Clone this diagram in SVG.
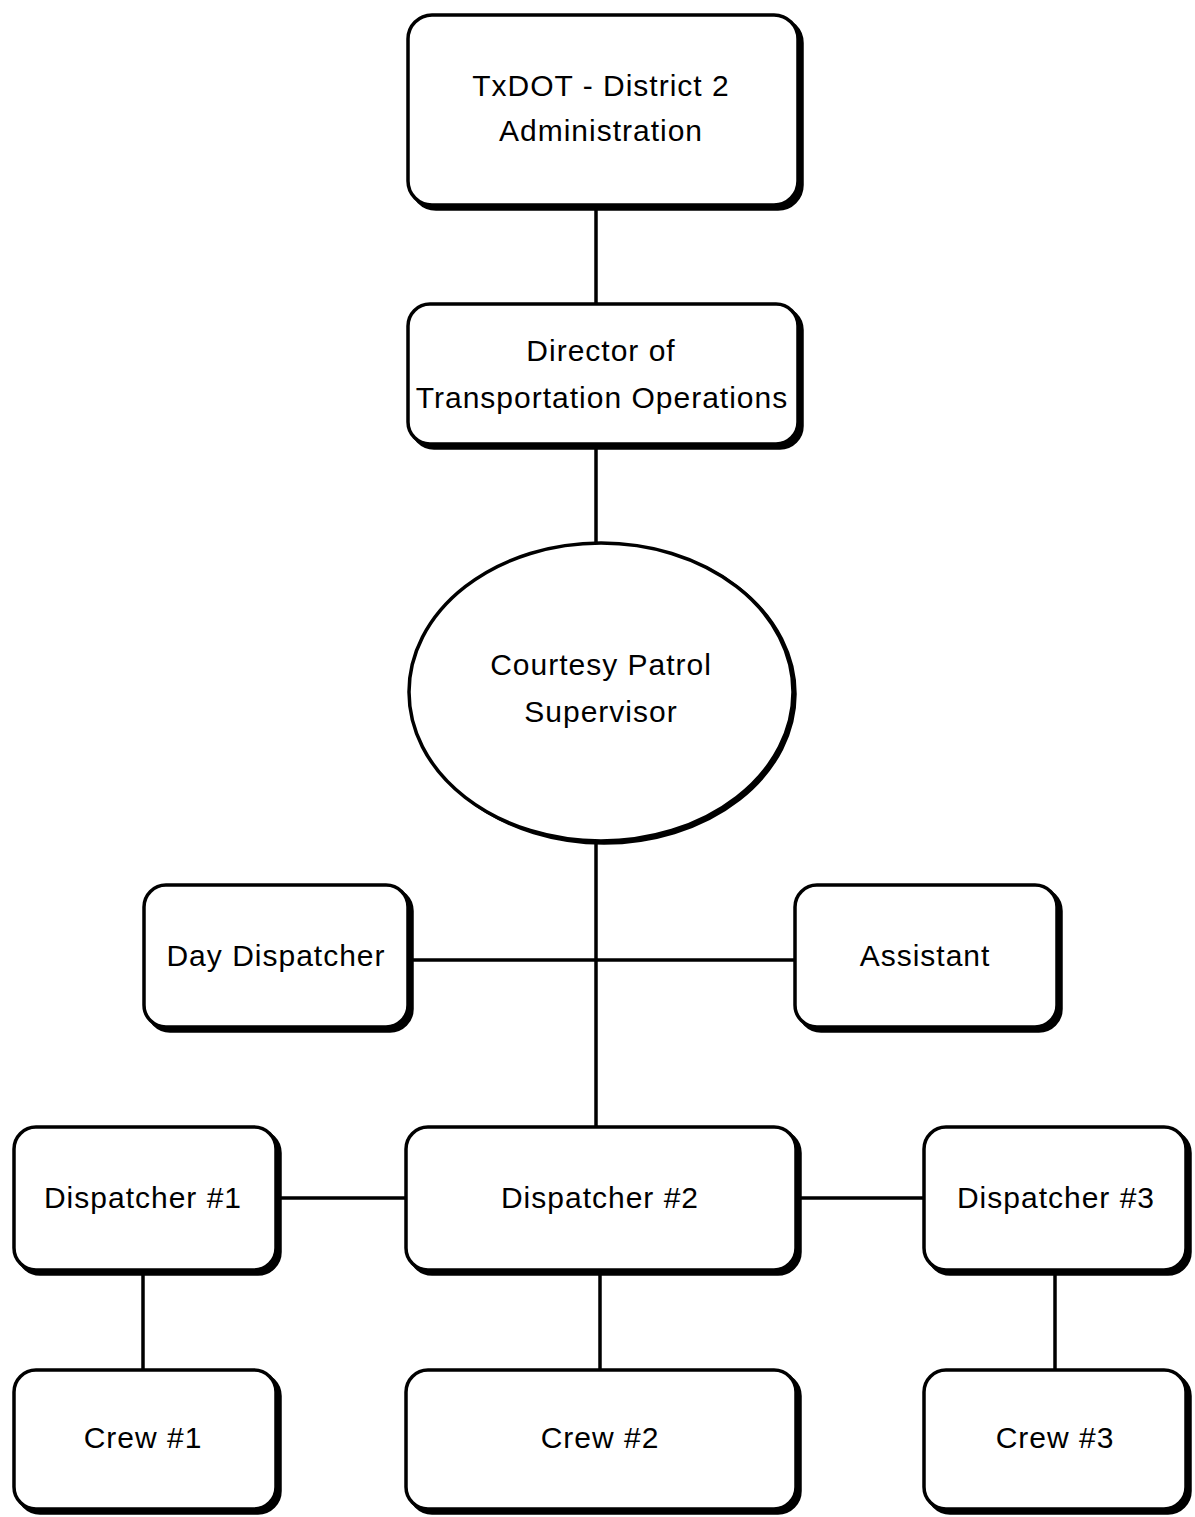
<svg xmlns="http://www.w3.org/2000/svg" width="1195" height="1517" viewBox="0 0 1195 1517">
  <style>
    .box { fill: #fff; stroke: #000; stroke-width: 3.5; }
    .shadow { fill: #000; stroke: #000; stroke-width: 3.5; }
    .label { font-family: "Liberation Sans", Arial, Helvetica, sans-serif; font-size: 30px; letter-spacing: 1px; fill: #000; text-anchor: middle; }
    .link { stroke: #000; stroke-width: 3.5; fill: none; }
  </style>
  <rect width="1195" height="1517" fill="#fff"/>

  <!-- connectors -->
  <g id="connectors">
    <line class="link" x1="596" y1="205" x2="596" y2="304"/>
    <line class="link" x1="596" y1="444" x2="596" y2="543"/>
    <line class="link" x1="596" y1="841" x2="596" y2="1127"/>
    <line class="link" x1="408" y1="960" x2="795" y2="960"/>
    <line class="link" x1="276" y1="1198" x2="406" y2="1198"/>
    <line class="link" x1="796" y1="1198" x2="924" y2="1198"/>
    <line class="link" x1="143" y1="1270" x2="143" y2="1370"/>
    <line class="link" x1="600" y1="1270" x2="600" y2="1370"/>
    <line class="link" x1="1055" y1="1270" x2="1055" y2="1370"/>
  </g>

  <g id="txdot">
    <rect class="shadow" x="412" y="19" width="390" height="190" rx="24"/>
    <rect class="box" x="408" y="15" width="390" height="190" rx="24"/>
    <text class="label" x="601" y="96">TxDOT - District 2</text>
    <text class="label" x="601" y="141">Administration</text>
  </g>

  <g id="director">
    <rect class="shadow" x="412" y="308" width="390" height="140" rx="22"/>
    <rect class="box" x="408" y="304" width="390" height="140" rx="22"/>
    <text class="label" x="601" y="361">Director of</text>
    <text class="label" x="602" y="408">Transportation Operations</text>
  </g>

  <g id="supervisor">
    <ellipse class="shadow" cx="604" cy="694" rx="191" ry="149"/>
    <ellipse class="box" cx="601" cy="692" rx="192" ry="149"/>
    <text class="label" x="601" y="675">Courtesy Patrol</text>
    <text class="label" x="601" y="722">Supervisor</text>
  </g>

  <g id="day-dispatcher">
    <rect class="shadow" x="148" y="889" width="264" height="142" rx="22"/>
    <rect class="box" x="144" y="885" width="264" height="142" rx="22"/>
    <text class="label" x="276" y="966">Day Dispatcher</text>
  </g>

  <g id="assistant">
    <rect class="shadow" x="799" y="889" width="262" height="142" rx="22"/>
    <rect class="box" x="795" y="885" width="262" height="142" rx="22"/>
    <text class="label" x="925" y="966">Assistant</text>
  </g>

  <g id="dispatcher-1">
    <rect class="shadow" x="18" y="1131" width="262" height="143" rx="22"/>
    <rect class="box" x="14" y="1127" width="262" height="143" rx="22"/>
    <text class="label" x="143" y="1208">Dispatcher #1</text>
  </g>

  <g id="dispatcher-2">
    <rect class="shadow" x="410" y="1131" width="390" height="143" rx="22"/>
    <rect class="box" x="406" y="1127" width="390" height="143" rx="22"/>
    <text class="label" x="600" y="1208">Dispatcher #2</text>
  </g>

  <g id="dispatcher-3">
    <rect class="shadow" x="928" y="1131" width="262" height="143" rx="22"/>
    <rect class="box" x="924" y="1127" width="262" height="143" rx="22"/>
    <text class="label" x="1056" y="1208">Dispatcher #3</text>
  </g>

  <g id="crew-1">
    <rect class="shadow" x="18" y="1374" width="262" height="139" rx="22"/>
    <rect class="box" x="14" y="1370" width="262" height="139" rx="22"/>
    <text class="label" x="143" y="1448">Crew #1</text>
  </g>

  <g id="crew-2">
    <rect class="shadow" x="410" y="1374" width="390" height="139" rx="22"/>
    <rect class="box" x="406" y="1370" width="390" height="139" rx="22"/>
    <text class="label" x="600" y="1448">Crew #2</text>
  </g>

  <g id="crew-3">
    <rect class="shadow" x="928" y="1374" width="262" height="139" rx="22"/>
    <rect class="box" x="924" y="1370" width="262" height="139" rx="22"/>
    <text class="label" x="1055" y="1448">Crew #3</text>
  </g>
</svg>
